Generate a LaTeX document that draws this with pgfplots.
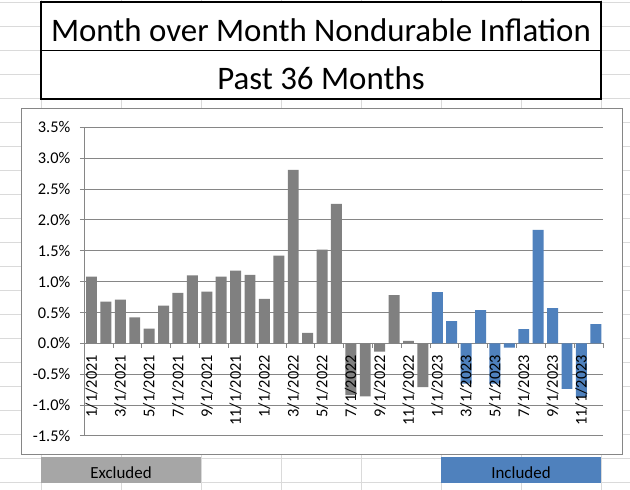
\documentclass[border=0pt]{standalone}
\usepackage{pgfplots}
\pgfplotsset{compat=1.18}
\usepackage{fontspec}
\setmainfont{Carlito}
\definecolor{exgray}{HTML}{808080}
\definecolor{exbox}{HTML}{A6A6A6}
\definecolor{inblue}{HTML}{4F81BD}
\definecolor{cellgrid}{HTML}{DADADA}
\definecolor{axgray}{HTML}{868686}
\pgfplotsset{
  common/.style={
    at={(84.3bp,54bp)}, anchor=south west,
    scale only axis, width=518.7bp, height=308.7bp,
    xmin=-0.5, xmax=35.5, ymin=-1.5, ymax=3.5,
    tick label style={font=\fontsize{16.4}{19}\selectfont},
    /pgf/number format/assume math mode=true,
    clip=false,
  }
}
\begin{document}
\begin{tikzpicture}[x=1bp,y=1bp]
\useasboundingbox (0,0) rectangle (630,490);
\begin{scope}
\clip (0,0) rectangle (630,490);
\foreach \xx in {41,121,201,281,361,441,521,601} \draw[cellgrid, line width=1bp] (\xx,0) -- (\xx,490);
\foreach \yy in {2.7,26.7,50.7,74.7,98.7,122.7,146.7,170.7,194.7,218.7,242.7,266.7,290.7,314.7,338.7,362.7,386.7,410.7,434.7,458.7,482.7} \draw[cellgrid, line width=1bp] (0,490-\yy) -- (630,490-\yy);
\end{scope}
% title box
\draw[line width=1.8bp, fill=white] (41,490-2.3) rectangle (601,490-98.7);
\draw[line width=1.6bp] (41,490-50.7) -- (601,490-50.7);
\node[font=\fontsize{33}{39}\selectfont] at (321,490-30.5) {Month over Month Nondurable Inflation};
\node[font=\fontsize{33}{39}\selectfont] at (321,490-78.5) {Past 36 Months};
% chart area
\draw[axgray, fill=white, line width=1bp] (21,490-109) rectangle (622,490-455);
% legend boxes
\fill[exbox] (41,490-457.5) rectangle (201,490-483);
\node[font=\fontsize{17}{20}\selectfont] at (121,490-472.5) {Excluded};
\fill[inblue] (441,490-457.5) rectangle (601,490-483);
\node[font=\fontsize{17}{20}\selectfont] at (521,490-472.5) {Included};
\begin{axis}[
  common,
  axis x line=middle, axis y line=left,
  axis line style={-, axgray, line width=1bp},
  ytick={-1.5,-1,-0.5,0,0.5,1,1.5,2,2.5,3,3.5},
  yticklabels={-1.5\%,-1.0\%,-0.5\%,0.0\%,0.5\%,1.0\%,1.5\%,2.0\%,2.5\%,3.0\%,3.5\%},
  ymajorgrids, grid style={axgray, line width=1bp},
  tick style={axgray, line width=1bp}, tick align=outside,
  major tick length=4.5bp,
  yticklabel style={xshift=-6bp},
  xtick={-0.5,1.5,...,35.5},
  xticklabels={},
]
\addplot[ybar, bar width=0.76, bar shift=0pt, fill=exgray, draw=none] coordinates {
(0,1.08) (1,0.675) (2,0.71) (3,0.42) (4,0.24) (5,0.61) (6,0.82) (7,1.10) (8,0.84) (9,1.08)
(10,1.18) (11,1.11) (12,0.72) (13,1.42) (14,2.81) (15,0.17) (16,1.52) (17,2.26) (18,-0.84)
(19,-0.86) (20,-0.135) (21,0.78) (22,0.04) (23,-0.71)};
\addplot[ybar, bar width=0.76, bar shift=0pt, fill=inblue, draw=none] coordinates {
(24,0.83) (25,0.36) (26,-0.65) (27,0.54) (28,-0.65) (29,-0.07) (30,0.23) (31,1.84)
(32,0.57) (33,-0.735) (34,-0.865) (35,0.31)};
\end{axis}
% overlay axis: category labels drawn over the bars
\begin{axis}[
  common,
  axis x line=middle, axis y line=none,
  axis line style={draw=none},
  ytick=\empty,
  xtick={0,2,...,34},
  xtick style={draw=none},
  major tick length=0pt,
  xticklabels={1/1/2021,3/1/2021,5/1/2021,7/1/2021,9/1/2021,11/1/2021,1/1/2022,3/1/2022,5/1/2022,7/1/2022,9/1/2022,11/1/2022,1/1/2023,3/1/2023,5/1/2023,7/1/2023,9/1/2023,11/1/2023},
  xticklabel style={rotate=90, anchor=east, inner xsep=11.5bp},
]
\end{axis}
\end{tikzpicture}
\end{document}
